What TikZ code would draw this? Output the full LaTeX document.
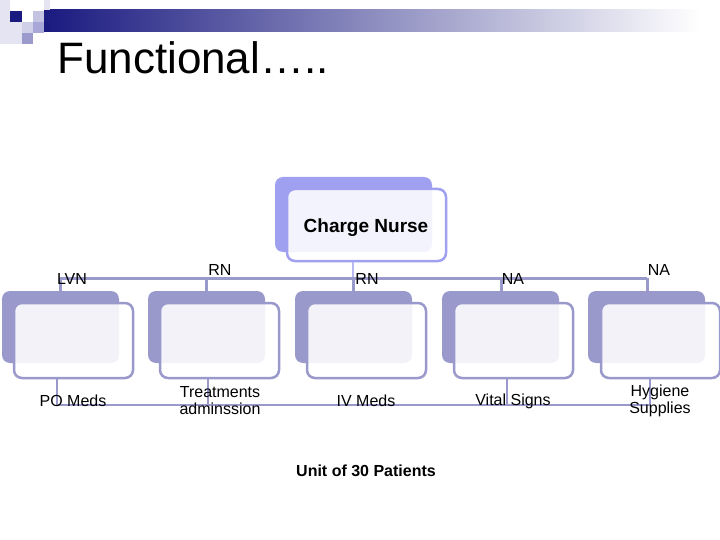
\documentclass[tikz,border=0pt]{standalone}
\usepackage{fontspec}
\setmainfont{Liberation Sans}
\definecolor{navy}{HTML}{1A1A80}
\definecolor{lav}{HTML}{9999CC}
\definecolor{lavb}{HTML}{A0A0F0}
\definecolor{lavc}{HTML}{B8B8F0}
\definecolor{sqa}{HTML}{E4E4F2}
\definecolor{sqb}{HTML}{D0D0E8}
\definecolor{sqc}{HTML}{9A9ACC}
\definecolor{sqd}{HTML}{C4C4E2}
\definecolor{sqe}{HTML}{A8A8D8}
\begin{document}
\begin{tikzpicture}[x=1pt,y=-1pt,
  backbox/.style={fill=lav,rounded corners=8pt,minimum width=117pt,minimum height=72pt,inner sep=0pt},
  frontbox/.style={draw=lav,line width=2.5pt,fill=white,fill opacity=0.88,rounded corners=8pt,minimum width=119pt,minimum height=75pt,inner sep=0pt},
  cnback/.style={fill=lavb,rounded corners=8pt,minimum width=157pt,minimum height=75pt,inner sep=0pt},
  cnfront/.style={draw=lavb,line width=2.5pt,fill=white,fill opacity=0.88,text opacity=1,rounded corners=8pt,minimum width=159pt,minimum height=72pt,inner sep=0pt,font=\fontsize{19}{22}\selectfont\bfseries},
  lbl/.style={font=\fontsize{16}{17}\selectfont,inner sep=0pt,align=center},
  bus/.style={draw=lav,line width=3pt},
  thin/.style={draw=lav,line width=1.2pt}]
\useasboundingbox (0,0) rectangle (720,540);
\fill[white] (0,0) rectangle (720,540);
% header bar
\shade[left color=navy,right color=white] (44,10) rectangle (700,32);
% decorative squares
\fill[sqa] (0,0) rectangle (10,44);
\fill[navy] (10,11) rectangle (22,22);
\fill[sqa] (10,22) rectangle (22,44);
\fill[sqb] (22,22) rectangle (33,33);
\fill[sqc] (22,33) rectangle (33,44);
\fill[sqd] (33,11) rectangle (44,22);
\fill[sqe] (33,22) rectangle (44,33);
\fill[sqa] (44,0) rectangle (50,10);
\fill[navy] (44,22) rectangle (50,32);
% title
\node[anchor=base west,inner sep=0pt,font=\fontsize{44}{48}\selectfont] (title) at (57,74) {Functional…..};
% charge nurse
\node[cnback] (cnb) at (353.5,214.5) {};
\node[cnfront] (cnf) at (366.5,225) {};
\node[font=\fontsize{19}{22}\selectfont\bfseries,inner sep=0pt] (cnt) at (366,228) {Charge Nurse};
% level 2 back boxes
\node[backbox] (b1) at (60.5,327) {};
\node[backbox] (b2) at (206.5,327) {};
\node[backbox] (b3) at (353.5,327) {};
\node[backbox] (b4) at (500.5,327) {};
\node[backbox] (b5) at (646.5,327) {};
% bus coordinates
\coordinate (bus) at (353,278);
\coordinate (u1) at (60,278);
\coordinate (u2) at (206,278);
\coordinate (u3) at (353,278);
\coordinate (u4) at (501,278);
\coordinate (u5) at (647,278);
\draw[draw=lavc,line width=2pt] (bus |- cnf.south) -- (bus);
\draw[bus] (u1) -- (u5);
\foreach \i in {1,...,5} \draw[bus] (u\i) -- (u\i |- b\i.north);
% front boxes
\node[frontbox] (f1) at (73.5,340.5) {};
\node[frontbox] (f2) at (219.5,340.5) {};
\node[frontbox] (f3) at (366.5,340.5) {};
\node[frontbox] (f4) at (513.5,340.5) {};
\node[frontbox] (f5) at (660.5,340.5) {};
% bottom connectors
\coordinate (d1) at (57,405);
\coordinate (d2) at (208,405);
\coordinate (d4) at (507,405);
\coordinate (d5) at (650,405);
\draw[thin] (d1) -- (d5);
\draw[thin] (d1 |- f1.south) -- (d1);
\draw[thin] (d2 |- f2.south) -- (d2);
\draw[thin] (d4 |- f4.south) -- (d4);
\draw[thin] (d5 |- f5.south) -- (d5);
% top labels
\node[lbl] (t1) at (72,279) {LVN};
\node[lbl] (t2) at (220,270) {RN};
\node[lbl] (t3) at (367,279) {RN};
\node[lbl] (t4) at (513,279) {NA};
\node[lbl] (t5) at (659,270) {NA};
% bottom labels
\node[lbl] (l1) at (73,401) {PO Meds};
\node[lbl] (l2) at (220,400.5) {Treatments\\adminssion};
\node[lbl] (l3) at (366,401) {IV Meds};
\node[lbl] (l4) at (513,401) {Vital Signs};
\node[lbl] (l5) at (660,400.5) {Hygiene\\Supplies};
\node[lbl,font=\fontsize{16}{17}\selectfont\bfseries] (unit) at (366,471) {Unit of 30 Patients};
\end{tikzpicture}
\end{document}
